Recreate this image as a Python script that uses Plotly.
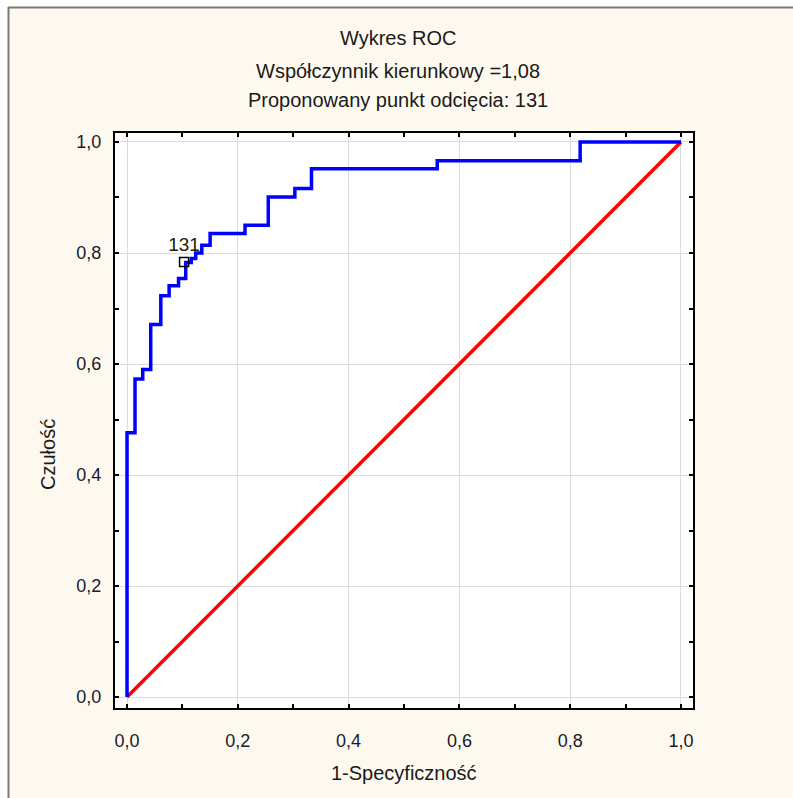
import plotly.graph_objects as go

# ROC curve points (1-specificity, sensitivity), drawn as steps
fpr = [0.0, 0.0, 0.0144, 0.0284, 0.0428, 0.061, 0.076, 0.093, 0.106, 0.116, 0.124,
       0.135, 0.150, 0.213, 0.255, 0.303, 0.333, 0.560, 0.818, 1.0]
sens = [0.0, 0.476, 0.573, 0.590, 0.671, 0.723, 0.741, 0.754, 0.783, 0.790, 0.800,
        0.814, 0.835, 0.850, 0.901, 0.916, 0.952, 0.966, 1.0, 1.0]

# reference diagonal
diag_x = [0.0, 1.0]
diag_y = [0.0, 1.0]

# proposed cut-off point
cut_x = [0.103]
cut_y = [0.784]
cut_label = "131"

tick_vals = [0.0, 0.2, 0.4, 0.6, 0.8, 1.0]

title_lines = ["Wykres ROC", "Współczynnik kierunkowy =1,08", "Proponowany punkt odcięcia: 131"]
x_title = "1-Specyficzność"
y_title = "Czułość"

FONT = "Liberation Sans, Arial, sans-serif"
CREAM = "#fdf9ef"
W, H = 793, 798
L, R, T, B = 115, 100, 133, 90
PW, PH = W - L - R, H - T - B


def px_x(p):
    return (p - L) / PW


def px_y(p):
    return (H - B - p) / PH


fig = go.Figure()
fig.add_trace(go.Scatter(x=diag_x, y=diag_y, mode="lines",
                         line=dict(color="#ff0000", width=3.5), showlegend=False))
fig.add_trace(go.Scatter(x=fpr, y=sens, mode="lines", line_shape="hv",
                         line=dict(color="#0000ff", width=3.5), showlegend=False))
fig.add_trace(go.Scatter(x=cut_x, y=cut_y, mode="markers+text", text=[cut_label],
                         textposition="top center",
                         textfont=dict(family=FONT, size=19, color="#222200"),
                         marker=dict(symbol="square-open", size=9, color="#000000",
                                     line=dict(width=1.5, color="#000000")),
                         showlegend=False))

axis_common = dict(
    tickvals=tick_vals, tickformat=".1f", ticks="inside", ticklen=4, tickwidth=1.5,
    tickcolor="#000000", showline=True, linecolor="#000000", linewidth=2,
    mirror="ticks", showgrid=True, gridcolor="#dcdcdc", gridwidth=1,
    zeroline=False, tickfont=dict(family=FONT, size=18, color="#1a1a2a"),
    minor=dict(dtick=0.1, tick0=0, ticks="inside", ticklen=4, tickwidth=1.5,
               tickcolor="#000000", showgrid=False),
)

fig.update_xaxes(range=[-0.0217, 1.0217], ticklabelstandoff=15, **axis_common)
fig.update_yaxes(range=[-0.0198, 1.0162], ticklabelstandoff=8, **axis_common)

annotations = []
for txt, ypix in zip(title_lines, [38, 71, 100]):
    annotations.append(dict(text=txt, xref="paper", yref="paper", x=px_x(W / 2 + 1),
                            y=px_y(ypix), showarrow=False, xanchor="center",
                            yanchor="middle", font=dict(family=FONT, size=20, color="#1a1a1a")))
annotations.append(dict(text=x_title, xref="paper", yref="paper", x=px_x(404), y=px_y(773),
                        showarrow=False, xanchor="center", yanchor="middle",
                        font=dict(family=FONT, size=20, color="#1a1a1a")))
annotations.append(dict(text=y_title, xref="paper", yref="paper", x=px_x(48), y=px_y(455),
                        showarrow=False, xanchor="center", yanchor="middle", textangle=-90,
                        font=dict(family=FONT, size=20, color="#1a1a1a")))

shapes = [
    dict(type="rect", xref="paper", yref="paper", x0=px_x(-10), x1=px_x(7.5),
         y0=px_y(H + 10), y1=px_y(-10), fillcolor="#ffffff", line=dict(width=0), layer="below"),
    dict(type="rect", xref="paper", yref="paper", x0=px_x(-10), x1=px_x(W + 10),
         y0=px_y(6.5), y1=px_y(-10), fillcolor="#ffffff", line=dict(width=0), layer="below"),
    dict(type="line", xref="paper", yref="paper", x0=px_x(8.5), x1=px_x(8.5),
         y0=px_y(H + 10), y1=px_y(7), line=dict(color="#7a7a7a", width=2), layer="below"),
    dict(type="line", xref="paper", yref="paper", x0=px_x(8), x1=px_x(W + 10),
         y0=px_y(7.5), y1=px_y(7.5), line=dict(color="#7a7a7a", width=2), layer="below"),
]

fig.update_layout(
    width=W, height=H, margin=dict(l=L, r=R, t=T, b=B),
    paper_bgcolor=CREAM, plot_bgcolor="#ffffff", separators=",.",
    annotations=annotations, shapes=shapes, showlegend=False,
    font=dict(family=FONT),
)

fig.write_html("out.html")
